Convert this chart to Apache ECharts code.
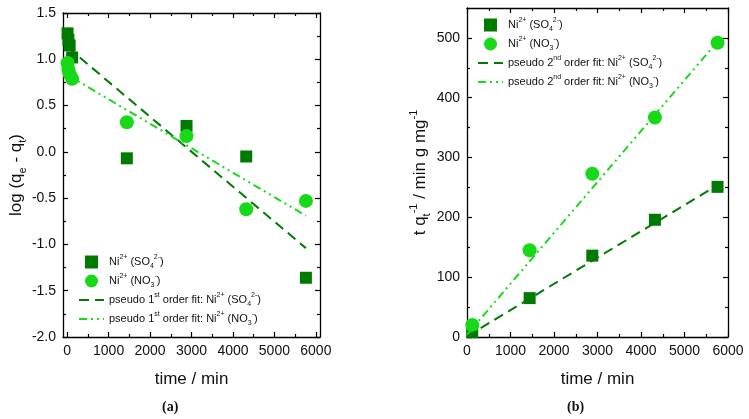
<!DOCTYPE html>
<html><head><meta charset="utf-8">
<script src="https://cdn.jsdelivr.net/npm/echarts@6/dist/echarts.min.js"></script>
<style>html,body{margin:0;padding:0;background:#fff}#c{width:749px;height:419px}</style>
</head><body><div id="c"></div>
<script>
// ---- data ----
const timeA = [10, 30, 60, 120, 1440, 2880, 4320, 5760];
const logSO4 = [1.28, 1.21, 1.15, 1.02, -0.07, 0.28, -0.05, -1.36];
const logNO3 = [0.96, 0.89, 0.84, 0.79, 0.32, 0.17, -0.62, -0.53];
const fitA_SO4 = [[10, 1.13], [5760, -1.04]];
const fitA_NO3 = [[10, 0.83], [5760, -0.69]];
const timeB = [120, 1440, 2880, 4320, 5760];
const tqSO4 = [8, 65, 136, 196, 251];
const tqNO3 = [20, 145, 273, 367, 492];
const fitB_SO4 = [[0, 1], [5760, 254]];
const fitB_NO3 = [[0, 4], [5760, 494]];
const xTicks = [0, 1000, 2000, 3000, 4000, 5000, 6000];
const xMinor = [500, 1500, 2500, 3500, 4500, 5500];
const yTicksA = [-2, -1.5, -1, -0.5, 0, 0.5, 1, 1.5];
const yMinorA = [-1.75, -1.25, -0.75, -0.25, 0.25, 0.75, 1.25];
const yTicksB = [0, 100, 200, 300, 400, 500];
const yMinorB = [50, 150, 250, 350, 450];

const FONT = 'Liberation Sans';
const DARK = '#007a00';
const LIGHT = '#18d918';
const SQUARE = 'path://M0,0L10,0L10,10L0,10Z';

const legRich = {
  n: {fontSize: 11, lineHeight: 16, fontFamily: FONT, color: '#111'},
  sup: {fontSize: 7, lineHeight: 10, verticalAlign: 'top', fontFamily: FONT, color: '#111'},
  sub: {fontSize: 7, lineHeight: 10, verticalAlign: 'bottom', fontFamily: FONT, color: '#111'}
};
const nameRich = {
  n: {fontSize: 17, lineHeight: 24, fontFamily: FONT, color: '#111'},
  sup: {fontSize: 11, lineHeight: 14, verticalAlign: 'top', fontFamily: FONT, color: '#111'},
  sub: {fontSize: 11, lineHeight: 14, verticalAlign: 'bottom', fontFamily: FONT, color: '#111'}
};
const legendText = {
  aS: '{n|Ni}{sup|2+}{n| (SO}{sub|4}{sup|2-}{n|)}',
  aN: '{n|Ni}{sup|2+}{n| (NO}{sub|3}{sup|-}{n|)}',
  aFS: '{n|pseudo 1}{sup|st}{n| order fit: Ni}{sup|2+}{n| (SO}{sub|4}{sup|2-}{n|)}',
  aFN: '{n|pseudo 1}{sup|st}{n| order fit: Ni}{sup|2+}{n| (NO}{sub|3}{sup|-}{n|)}',
  bS: '{n|Ni}{sup|2+}{n| (SO}{sub|4}{sup|2-}{n|)}',
  bN: '{n|Ni}{sup|2+}{n| (NO}{sub|3}{sup|-}{n|)}',
  bFS: '{n|pseudo 2}{sup|nd}{n| order fit: Ni}{sup|2+}{n| (SO}{sub|4}{sup|2-}{n|)}',
  bFN: '{n|pseudo 2}{sup|nd}{n| order fit: Ni}{sup|2+}{n| (NO}{sub|3}{sup|-}{n|)}'
};

function axisSet(dim, grid, min, max, major, minor, fmt, name, nameGap) {
  const pos = dim === 'x' ? ['bottom', 'top'] : ['left', 'right'];
  const base = {type: 'value', gridIndex: grid, min: min, max: max, splitLine: {show: false}};
  const line = {show: true, onZero: false, lineStyle: {color: '#000', width: 1.3}};
  const noLine = {show: false, onZero: false};
  return [
    Object.assign({}, base, {
      position: pos[0], axisLine: line,
      axisTick: {show: true, inside: true, length: 5, customValues: major, lineStyle: {color: '#000', width: 1.2}},
      axisLabel: {show: true, customValues: major, formatter: fmt, margin: 7, fontSize: 14, fontFamily: FONT, color: '#111'},
      name: name, nameLocation: 'middle', nameGap: nameGap, nameRotate: dim === 'y' ? 90 : 0,
      nameTextStyle: {rich: nameRich}
    }),
    Object.assign({}, base, {
      position: pos[0], axisLine: noLine,
      axisTick: {show: true, inside: true, length: 3, customValues: minor, lineStyle: {color: '#000', width: 1.2}},
      axisLabel: {show: false}
    }),
    Object.assign({}, base, {
      position: pos[1], axisLine: line,
      axisTick: {show: true, inside: true, length: 5, customValues: major, lineStyle: {color: '#000', width: 1.2}},
      axisLabel: {show: false}
    }),
    Object.assign({}, base, {
      position: pos[1], axisLine: noLine,
      axisTick: {show: true, inside: true, length: 3, customValues: minor, lineStyle: {color: '#000', width: 1.2}},
      axisLabel: {show: false}
    })
  ];
}

const pairs = (xs, ys) => xs.map((x, i) => [x, ys[i]]);
const hideSym = {color: 'rgba(0,0,0,0)', borderWidth: 0, opacity: 0};
const legendItems = names => [
  {name: names[0]}, {name: names[1]},
  {name: names[2], itemStyle: hideSym, lineStyle: {width: 2}},
  {name: names[3], itemStyle: hideSym, lineStyle: {width: 2}}
];

const option = {
  backgroundColor: '#fff',
  animation: false,
  grid: [
    {left: 63, top: 13, width: 257, height: 324},
    {left: 467, top: 8, width: 261, height: 329}
  ],
  xAxis: [].concat(
    axisSet('x', 0, -100, 6100, xTicks, xMinor, v => String(v), '{n|time / min}', 30),
    axisSet('x', 1, 0, 6000, xTicks, xMinor, v => String(v), '{n|time / min}', 30)
  ),
  yAxis: [].concat(
    axisSet('y', 0, -2, 1.5, yTicksA, yMinorA, v => v.toFixed(1), '{n|log (q}{sub|e}{n| - q}{sub|t}{n|)}', 30),
    axisSet('y', 1, 0, 550, yTicksB, yMinorB, v => String(v), '{n|t q}{sub|t}{sup|-1}{n| / min g mg}{sup|-1}', 34)
  ),
  legend: [
    {data: legendItems(['aS', 'aN', 'aFS', 'aFN']), left: 73, top: 249, orient: 'vertical', itemWidth: 25, itemHeight: 13, itemGap: 3,
     lineStyle: {width: 2}, formatter: n => legendText[n], textStyle: {rich: legRich}, selectedMode: false},
    {data: legendItems(['bS', 'bN', 'bFS', 'bFN']), left: 472, top: 12, orient: 'vertical', itemWidth: 25, itemHeight: 13, itemGap: 3,
     lineStyle: {width: 2}, formatter: n => legendText[n], textStyle: {rich: legRich}, selectedMode: false}
  ],
  graphic: [
    {type: 'text', left: 162, top: 400, style: {text: '(a)', font: 'bold 14px "Liberation Serif"', fill: '#111'}},
    {type: 'text', left: 567, top: 400, style: {text: '(b)', font: 'bold 14px "Liberation Serif"', fill: '#111'}}
  ],
  series: [
    {name: 'aS', type: 'scatter', xAxisIndex: 0, yAxisIndex: 0, symbol: SQUARE, symbolSize: 12, itemStyle: {color: DARK, opacity: 1}, data: pairs(timeA, logSO4), z: 2},
    {name: 'aN', type: 'scatter', xAxisIndex: 0, yAxisIndex: 0, symbol: 'circle', symbolSize: 14, itemStyle: {color: LIGHT, opacity: 1}, data: pairs(timeA, logNO3), z: 2},
    {name: 'aFS', type: 'line', xAxisIndex: 0, yAxisIndex: 0, symbol: 'none', lineStyle: {color: DARK, width: 2, type: [10, 6]}, itemStyle: {color: DARK}, data: fitA_SO4, z: 3},
    {name: 'aFN', type: 'line', xAxisIndex: 0, yAxisIndex: 0, symbol: 'none', lineStyle: {color: LIGHT, width: 2, type: [8, 4, 2, 4, 2, 4]}, itemStyle: {color: LIGHT}, data: fitA_NO3, z: 3},
    {name: 'bS', type: 'scatter', xAxisIndex: 4, yAxisIndex: 4, symbol: SQUARE, symbolSize: 12, itemStyle: {color: DARK, opacity: 1}, data: pairs(timeB, tqSO4), z: 2},
    {name: 'bN', type: 'scatter', xAxisIndex: 4, yAxisIndex: 4, symbol: 'circle', symbolSize: 14, itemStyle: {color: LIGHT, opacity: 1}, data: pairs(timeB, tqNO3), z: 2},
    {name: 'bFS', type: 'line', xAxisIndex: 4, yAxisIndex: 4, symbol: 'none', lineStyle: {color: DARK, width: 2, type: [10, 6]}, itemStyle: {color: DARK}, data: fitB_SO4, z: 3},
    {name: 'bFN', type: 'line', xAxisIndex: 4, yAxisIndex: 4, symbol: 'none', lineStyle: {color: LIGHT, width: 2, type: [8, 4, 2, 4, 2, 4]}, itemStyle: {color: LIGHT}, data: fitB_NO3, z: 3}
  ]
};
const chart = echarts.init(document.getElementById('c'));
chart.setOption(option);
</script>
</body></html>
